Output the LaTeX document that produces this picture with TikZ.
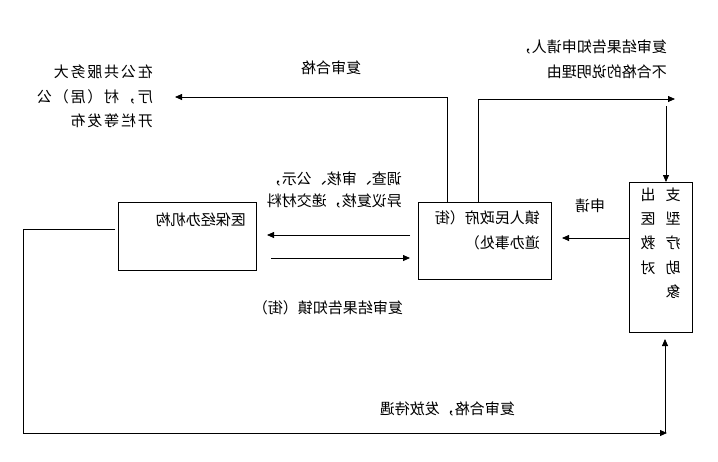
\documentclass[tikz,border=0pt]{standalone}
\usepackage{fontspec}
\newfontfamily\cjk{Noto Sans CJK SC}
\newfontfamily\cjkw[LetterSpace=12]{Noto Sans CJK SC}
\usetikzlibrary{arrows.meta}
\newcommand{\mir}[1]{\scalebox{-1}[1]{#1}}
\tikzset{
  box/.style={draw, line width=0.8pt, inner sep=0pt, anchor=north west},
  ln/.style={line width=0.8pt},
  arr/.style={line width=0.8pt, -{Triangle[length=7pt,width=6pt]}},
  txt/.style={font=\cjk\fontsize{15}{22}\selectfont, inner sep=0pt},
}
\begin{document}
\begin{tikzpicture}[x=1pt,y=-1pt]
\useasboundingbox (0,0) rectangle (718,461);
% boxes
\node[box, minimum width=138pt, minimum height=68pt] (yb) at (118,202) {};
\node[box, minimum width=133pt, minimum height=77pt] (zf) at (418,202) {};
\node[box, minimum width=63pt, minimum height=150pt] (dx) at (629,182) {};
% texts inside boxes
\node[txt, anchor=east] (ybt) at (246,220) {\mir{医保经办机构}};
\node[txt, anchor=east] (zft) at (540,230.5) {\mir{\fontsize{15}{25}\selectfont\begin{tabular}{@{}l@{}}镇人民政府（街\\道办事处）\end{tabular}}};
\node[txt, anchor=center] (dxt) at (660.5,244) {\mir{\fontsize{15}{24.2}\selectfont\begin{tabular}{@{}c@{\hspace{10pt}}c@{}}支&出\\型&医\\疗&救\\助&对\\象&\end{tabular}}};
% labels
\node[txt, anchor=center] (l1) at (331,68) {\mir{复审合格}};
\node[txt, anchor=east] (l2) at (153,97.5) {\mir{\cjkw\fontsize{15}{24.5}\selectfont\begin{tabular}{@{}l@{}}在公共服务大\\厅，村（居）公\\开栏等发布\end{tabular}}};
\node[txt, anchor=east] (l3) at (667,59.5) {\mir{\fontsize{15}{25}\selectfont\begin{tabular}{@{}l@{}}复审结果告知申请人，\\不合格的说明理由\end{tabular}}};
\node[txt, anchor=east] (l4) at (402,191) {\mir{\begin{tabular}{@{}l@{}}调查、审核、公示，\\异议复核，递交材料\end{tabular}}};
\node[txt, anchor=center] (l5) at (590,206) {\mir{申请}};
\node[txt, anchor=east] (l6) at (403,308) {\mir{复审结果告知镇（街）}};
\node[txt, anchor=east] (l7) at (515,409) {\mir{复审合格，发放待遇}};
% coordinates for free ends and bends
\coordinate (t1) at (447,97);
\coordinate (t1e) at (175,97);
\coordinate (t2) at (478,99);
\coordinate (t2e) at (675,99);
\coordinate (t3) at (666,106);
\coordinate (s1) at (562,238);
\coordinate (u1) at (410,235);
\coordinate (u2) at (267,235);
\coordinate (v1) at (271,258);
\coordinate (v2) at (410,258);
\coordinate (b1) at (23,229);
\coordinate (b2) at (23,433);
\coordinate (b3) at (667,433);
\coordinate (c1) at (665,433);
\coordinate (c2) at (665,339);
% connectors
\draw[arr] (zf.north -| t1) -- (t1) -- (t1e);
\draw[arr] (zf.north -| t2) -- (t2) -- (t2e);
\draw[arr] (t3) -- (dx.north -| t3);
\draw[arr] (dx.west |- s1) -- (s1);
\draw[arr] (u1) -- (u2);
\draw[arr] (v1) -- (v2);
\draw[ln] ([xshift=-3pt]yb.west |- b1) -- (b1) -- (b2);
\draw[arr] (b2) -- (b3);
\draw[arr] (c1) -- (c2);
\end{tikzpicture}
\end{document}
